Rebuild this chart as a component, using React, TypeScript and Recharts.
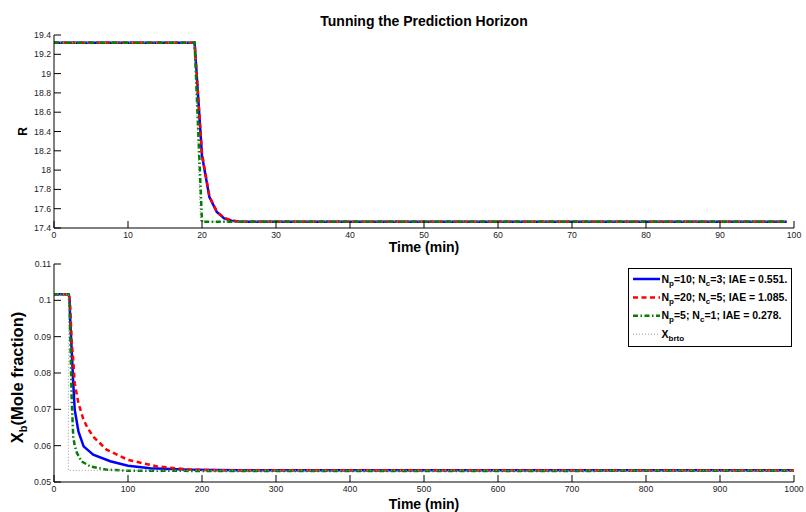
import React from 'react';
import { LineChart, Line, XAxis, YAxis, Legend } from 'recharts';

const FONT = '"Liberation Sans", Arial, Helvetica, sans-serif';

// ---------- Top subplot: R vs Time (min) ----------
const rTimeNp10 = [0, 19, 20, 21, 22, 23, 24, 25, 26, 27, 99];
const rNp10 = [19.32, 19.32, 18.15, 17.72, 17.565, 17.5, 17.475, 17.467, 17.465, 17.465, 17.465];
const rTimeNp20 = [0, 19, 20, 21, 22, 23, 24, 25, 26, 27, 99];
const rNp20 = [19.32, 19.32, 18.17, 17.73, 17.57, 17.505, 17.477, 17.468, 17.465, 17.465, 17.465];
const rTimeNp5 = [0, 19, 20, 99];
const rNp5 = [19.32, 19.32, 17.465, 17.465];
const rTimeRef = [0, 19, 19.8, 99];
const rRef = [19.32, 19.32, 17.465, 17.465];
const rXTicks = [0, 10, 20, 30, 40, 50, 60, 70, 80, 90, 100];
const rYTicks = [17.4, 17.6, 17.8, 18, 18.2, 18.4, 18.6, 18.8, 19, 19.2, 19.4];

// ---------- Bottom subplot: Xb vs Time (min) ----------
const xbTimeNp10 = [0, 20, 21, 22, 24, 26, 28, 33, 40, 53, 76, 100, 130, 184, 250, 1000];
const xbNp10 = [0.1017, 0.1017, 0.1, 0.0945, 0.086, 0.0772, 0.0699, 0.0639, 0.0598, 0.0575, 0.0557, 0.0545, 0.0538, 0.0534, 0.0532, 0.0532];
const xbTimeNp20 = [0, 20, 21, 22, 24, 26, 28, 33, 40, 45, 53, 71, 100, 139, 184, 230, 1000];
const xbNp20 = [0.1017, 0.1017, 0.1005, 0.098, 0.0882, 0.0836, 0.0772, 0.0717, 0.0671, 0.065, 0.0625, 0.0589, 0.0561, 0.0543, 0.0534, 0.0532, 0.0532];
const xbTimeNp5 = [0, 20, 21, 22, 23, 24, 26, 28, 31, 37, 49, 71, 100, 300, 1000];
const xbNp5 = [0.1017, 0.1017, 0.098, 0.09, 0.081, 0.072, 0.0625, 0.06, 0.058, 0.0557, 0.0543, 0.0534, 0.0531, 0.053, 0.0531];
const xbTimeRef = [0, 19.5, 19.5, 1000];
const xbRef = [0.1017, 0.1017, 0.0532, 0.0532];
const xbXTicks = [0, 100, 200, 300, 400, 500, 600, 700, 800, 900, 1000];
const xbYTicks = [0.05, 0.06, 0.07, 0.08, 0.09, 0.1, 0.11];

// legend
const legendNp = ['10', '20', '5'];
const legendNc = ['3', '5', '1'];
const legendIAE = ['0.551', '1.085', '0.278'];

const BLUE = '#0000ff';
const RED = '#ff0000';
const GREEN = '#007f00';
const REF_PURPLE = '#b48cb4';
const REF_GRAY = '#999999';

const DASH_RED = '5 3.5';
const DASH_GREEN = '5 2.5 1.5 2.5';
const DASH_DOT = '1 2';

const pts = (ts: number[], vs: number[]) => ts.map((t, i) => ({ t, v: vs[i] }));

const tickStyle = { fontSize: 8.7, fill: '#222', fontFamily: FONT };
const axisLine = { stroke: '#000', strokeWidth: 1 };
const tickLine = { stroke: '#000', strokeWidth: 1 };

const fmtR = (v: number) => String(Number(v.toFixed(1)));
const fmtXb = (v: number) => String(Number(v.toFixed(2)));

function LegendBox() {
  const rows = [0, 1, 2, 3];
  const rowY = (i: number) => 11 + i * 18.4;
  const colors = [BLUE, RED, GREEN];
  const dashes = [undefined, DASH_RED, DASH_GREEN];
  return (
    <svg width={164} height={79} style={{ display: 'block', fontFamily: FONT }}>
      <rect x={0.5} y={0.5} width={163} height={78} fill="#fff" stroke="#000" strokeWidth={1} />
      {rows.map((i) => {
        const y = rowY(i);
        if (i < 3) {
          return (
            <g key={i}>
              <line x1={5} x2={32} y1={y} y2={y} stroke={colors[i]} strokeWidth={2.5} strokeDasharray={dashes[i]} />
              <text x={33.5} y={y + 3.6} fontSize={10.5} fontWeight="bold" fill="#000">
                <tspan>N</tspan>
                <tspan dy={3} fontSize={8}>p</tspan>
                <tspan dy={-3}>{`=${legendNp[i]}; N`}</tspan>
                <tspan dy={3} fontSize={8}>c</tspan>
                <tspan dy={-3}>{`=${legendNc[i]}; IAE = ${legendIAE[i]}.`}</tspan>
              </text>
            </g>
          );
        }
        return (
          <g key={i}>
            <line x1={5} x2={32} y1={y} y2={y} stroke={REF_PURPLE} strokeWidth={1} strokeDasharray={DASH_DOT} />
            <text x={33.5} y={y + 3.6} fontSize={10.5} fontWeight="bold" fill="#000">
              <tspan>X</tspan>
              <tspan dy={3.5} fontSize={8}>brto</tspan>
            </text>
          </g>
        );
      })}
    </svg>
  );
}

function TopChart() {
  return (
    <LineChart width={806} height={256} margin={{ top: 35, right: 12, bottom: 0, left: 0 }}>
      <XAxis xAxisId="b" type="number" dataKey="t" domain={[0, 100]} ticks={rXTicks} interval={0}
        orientation="bottom" height={28} tickSize={-7} tickMargin={11} tick={tickStyle}
        axisLine={axisLine} tickLine={tickLine} allowDataOverflow />
      <XAxis xAxisId="t" type="number" domain={[0, 100]} ticks={rXTicks} interval={0}
        orientation="top" height={0} tickSize={-7} tick={false}
        axisLine={axisLine} tickLine={tickLine} allowDataOverflow />
      <YAxis yAxisId="l" type="number" domain={[17.4, 19.4]} ticks={rYTicks} interval={0}
        orientation="left" width={54} tickSize={-7} tickMargin={10} tick={tickStyle}
        tickFormatter={fmtR} axisLine={axisLine} tickLine={tickLine} allowDataOverflow />
      <YAxis yAxisId="r" type="number" domain={[17.4, 19.4]} ticks={rYTicks} interval={0}
        orientation="right" width={0} tickSize={-7} tick={false}
        axisLine={axisLine} tickLine={tickLine} allowDataOverflow />
      <Line xAxisId="b" yAxisId="l" data={pts(rTimeNp10, rNp10)} dataKey="v" type="linear" stroke={BLUE}
        strokeWidth={2.5} dot={false} activeDot={false} isAnimationActive={false} />
      <Line xAxisId="b" yAxisId="l" data={pts(rTimeNp20, rNp20)} dataKey="v" type="linear" stroke={RED}
        strokeWidth={2.5} strokeDasharray={DASH_RED} dot={false} activeDot={false} isAnimationActive={false} />
      <Line xAxisId="b" yAxisId="l" data={pts(rTimeRef, rRef)} dataKey="v" type="linear" stroke={REF_GRAY}
        strokeWidth={1} strokeDasharray={DASH_DOT} dot={false} activeDot={false} isAnimationActive={false} />
      <Line xAxisId="b" yAxisId="l" data={pts(rTimeNp5, rNp5)} dataKey="v" type="linear" stroke={GREEN}
        strokeWidth={2.5} strokeDasharray={DASH_GREEN} dot={false} activeDot={false} isAnimationActive={false} />
      <text x={424} y={25.7} textAnchor="middle" fontSize={14} fontWeight="bold" fontFamily={FONT} fill="#000">
        Tunning the Prediction Horizon
      </text>
      <text x={424} y={251.7} textAnchor="middle" fontSize={14} fontWeight="bold" fontFamily={FONT} fill="#000">
        Time (min)
      </text>
      <text x={26.7} y={131.5} transform="rotate(-90, 26.7, 131.5)" textAnchor="middle" fontSize={12}
        fontWeight="bold" fontFamily={FONT} fill="#000">
        R
      </text>
    </LineChart>
  );
}

function BottomChart() {
  return (
    <LineChart width={806} height={256} margin={{ top: 8, right: 12, bottom: 0, left: 0 }}>
      <XAxis xAxisId="b" type="number" dataKey="t" domain={[0, 1000]} ticks={xbXTicks} interval={0}
        orientation="bottom" height={30} tickSize={-7} tickMargin={11} tick={tickStyle}
        axisLine={axisLine} tickLine={tickLine} allowDataOverflow />
      <XAxis xAxisId="t" type="number" domain={[0, 1000]} ticks={xbXTicks} interval={0}
        orientation="top" height={0} tickSize={-7} tick={false}
        axisLine={axisLine} tickLine={tickLine} allowDataOverflow />
      <YAxis yAxisId="l" type="number" domain={[0.05, 0.11]} ticks={xbYTicks} interval={0}
        orientation="left" width={54} tickSize={-7} tickMargin={10} tick={tickStyle}
        tickFormatter={fmtXb} axisLine={axisLine} tickLine={tickLine} allowDataOverflow />
      <YAxis yAxisId="r" type="number" domain={[0.05, 0.11]} ticks={xbYTicks} interval={0}
        orientation="right" width={0} tickSize={-7} tick={false}
        axisLine={axisLine} tickLine={tickLine} allowDataOverflow />
      <Line xAxisId="b" yAxisId="l" data={pts(xbTimeNp10, xbNp10)} dataKey="v" type="linear" stroke={BLUE}
        strokeWidth={2.5} dot={false} activeDot={false} isAnimationActive={false} />
      <Line xAxisId="b" yAxisId="l" data={pts(xbTimeNp20, xbNp20)} dataKey="v" type="linear" stroke={RED}
        strokeWidth={2.5} strokeDasharray={DASH_RED} dot={false} activeDot={false} isAnimationActive={false} />
      <Line xAxisId="b" yAxisId="l" data={pts(xbTimeNp5, xbNp5)} dataKey="v" type="linear" stroke={GREEN}
        strokeWidth={2.5} strokeDasharray={DASH_GREEN} dot={false} activeDot={false} isAnimationActive={false} />
      <Line xAxisId="b" yAxisId="l" data={pts(xbTimeRef, xbRef)} dataKey="v" type="linear" stroke={REF_PURPLE}
        strokeWidth={1} strokeDasharray={DASH_DOT} dot={false} activeDot={false} isAnimationActive={false} />
      <Legend layout="vertical" align="center" verticalAlign="middle" content={() => <LegendBox />}
        wrapperStyle={{ position: 'absolute', left: 628, top: 12, width: 164, height: 79 }} />
      <text x={424} y={253} textAnchor="middle" fontSize={14} fontWeight="bold" fontFamily={FONT} fill="#000">
        Time (min)
      </text>
      <text x={22.7} y={121.5} transform="rotate(-90, 22.7, 121.5)" textAnchor="middle" fontSize={16.5}
        fontWeight="bold" fontFamily={FONT} fill="#000">
        <tspan>X</tspan>
        <tspan dy={4} fontSize={11}>b</tspan>
        <tspan dy={-4}>(Mole fraction)</tspan>
      </text>
    </LineChart>
  );
}

export default function App() {
  return (
    <div style={{ position: 'absolute', left: 0, top: 0, width: 806, height: 512, background: '#fff', fontFamily: FONT }}>
      <div style={{ position: 'absolute', left: 0, top: 0 }}>
        <TopChart />
      </div>
      <div style={{ position: 'absolute', left: 0, top: 256 }}>
        <BottomChart />
      </div>
    </div>
  );
}
